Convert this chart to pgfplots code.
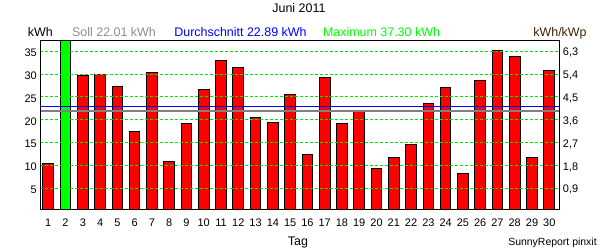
\documentclass[border=0pt]{standalone}
\usepackage{pgfplots}
\pgfplotsset{compat=1.18}
\usepackage{fontspec}
\setmainfont{Liberation Sans}
\definecolor{barred}{RGB}{255,0,0}
\definecolor{bargreen}{RGB}{0,255,0}
\definecolor{gridgreen}{RGB}{0,230,0}
\definecolor{sollgray}{RGB}{140,140,140}
\definecolor{linegray}{RGB}{128,128,128}
\definecolor{avgblue}{RGB}{0,0,255}
\definecolor{kwpbrown}{RGB}{64,32,0}
\begin{document}
\begin{tikzpicture}[x=1bp,y=1bp]
\useasboundingbox (0,0) rectangle (600,250);
\begin{axis}[
  at={(40.3bp,40.7bp)}, anchor=south west,
  scale only axis, width=519bp, height=168.6bp,
  xmin=0.54, xmax=30.58, ymin=0.4, ymax=37.3,
  axis on top,
  ymajorgrids,
  grid style={dash pattern=on 3bp off 2bp, color=gridgreen, line width=1bp},
  xtick={1,...,30}, ytick={5,10,15,20,25,30,35},
  major tick length=0pt,
  tick label style={font=\fontsize{11}{13}\selectfont, inner sep=0pt},
  /pgf/number format/assume math mode=true,
  xticklabel style={anchor=base, yshift=-17.4bp},
  yticklabel style={anchor=east, xshift=-3.3bp, yshift=-1.5bp},
  axis line style={black, line width=1bp},
]
\addplot[ybar, bar width=10.7bp, bar shift=0pt, fill=barred, draw=black, line width=1bp] coordinates {
(1,10.5) (3,29.7) (4,29.9) (5,27.3) (6,17.5) (7,30.4) (8,10.9) (9,19.2) (10,26.7)
(11,33.0) (12,31.5) (13,20.5) (14,19.4) (15,25.6) (16,12.5) (17,29.3) (18,19.2) (19,22.0) (20,9.4)
(21,11.8) (22,14.5) (23,23.6) (24,27.1) (25,8.3) (26,28.5) (27,35.2) (28,33.9) (29,11.8) (30,30.7)
};
\addplot[ybar, bar width=10.7bp, bar shift=0pt, fill=bargreen, draw=black, line width=1bp] coordinates {(2,37.3)};
\addplot[linegray, line width=2bp, sharp plot] coordinates {(0.54,22.01) (30.58,22.01)};
\addplot[avgblue, line width=1.2bp, sharp plot] coordinates {(0.54,22.89) (30.58,22.89)};
\end{axis}
\begin{axis}[
  at={(40.3bp,40.7bp)}, anchor=south west,
  scale only axis, width=519bp, height=168.6bp,
  xmin=0.54, xmax=30.58, ymin=0.072, ymax=6.714,
  axis x line=none, axis y line*=right,
  ytick={0.9,1.8,2.7,3.6,4.5,5.4,6.3},
  major tick length=0pt,
  tick label style={font=\fontsize{11}{13}\selectfont, inner sep=0pt},
  /pgf/number format/assume math mode=true,
  yticklabel style={anchor=west, xshift=3.4bp, yshift=-1.5bp,
    /pgf/number format/.cd, use comma, fixed, fixed zerofill, precision=1},
  axis line style={black, line width=1bp},
]
\addplot[draw=none] coordinates {(1,1)};
\end{axis}
\begin{scope}[every node/.style={font=\fontsize{12.5}{15}\selectfont, inner sep=0pt}]
\node[anchor=base] at (298.9,237.7) {Juni 2011};
\node[anchor=base] at (40.3,213.3) {kWh};
\node[anchor=base, text=sollgray] at (114,213.3) {Soll 22.01 kWh};
\node[anchor=base, text=avgblue] at (240.5,213.3) {Durchschnitt 22.89 kWh};
\node[anchor=base, text=bargreen] at (381.5,213.3) {Maximum 37.30 kWh};
\node[anchor=base, text=kwpbrown] at (560,213.3) {kWh/kWp};
\node[anchor=base] at (298,5) {Tag};
\node[anchor=base, font=\fontsize{10.5}{12}\selectfont] at (552.5,5) {SunnyReport pinxit};
\end{scope}
\end{tikzpicture}
\end{document}
